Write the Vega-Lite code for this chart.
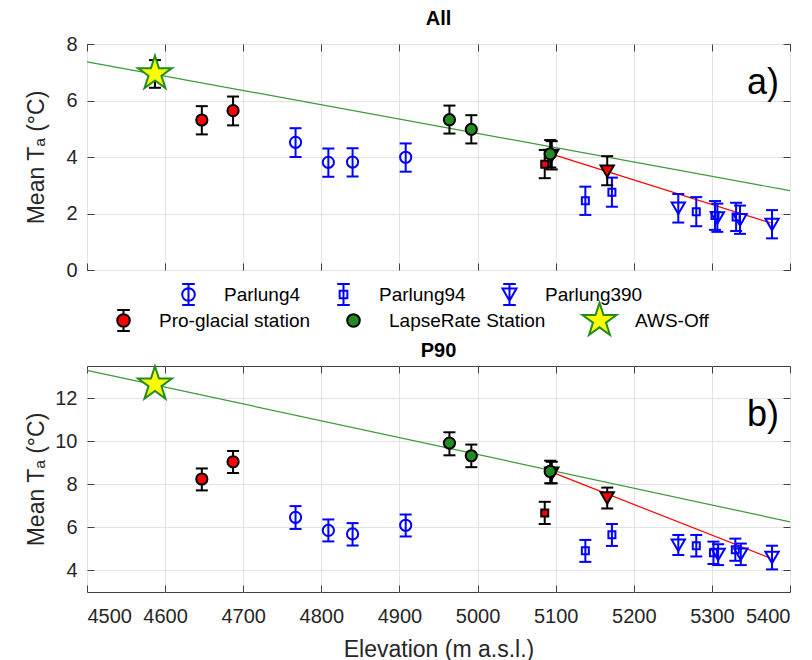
{
  "$schema": "https://vega.github.io/schema/vega-lite/v6.json",
  "padding": {"left": 24, "top": 8, "right": 2, "bottom": 0},
  "config": {
    "font": "Liberation Sans",
    "view": {"stroke": "#404040", "strokeWidth": 1},
    "axis": {"labelFont": "Liberation Sans", "labelFontSize": 20, "labelColor": "#262626", "titleFont": "Liberation Sans", "titleFontSize": 23, "titleFontWeight": "normal", "titleColor": "#262626", "gridColor": "#e3e3e3", "gridWidth": 1, "tickColor": "#404040", "tickWidth": 1, "domain": false, "format": "d"},
    "title": {"font": "Liberation Sans", "fontSize": 20, "fontWeight": "bold", "color": "#000000"}
  },
  "datasets": {
    "pts": [
      {"panel": "All", "series": "AWS-Off", "kind": "station", "sym": "star", "elev": 4587, "mean": 6.95, "lo": 6.45, "hi": 7.43},
      {"panel": "All", "series": "Pro-glacial station", "kind": "station", "sym": "circle", "elev": 4647, "mean": 5.31, "lo": 4.8, "hi": 5.8},
      {"panel": "All", "series": "Pro-glacial station", "kind": "station", "sym": "circle", "elev": 4687, "mean": 5.64, "lo": 5.12, "hi": 6.14},
      {"panel": "All", "series": "Parlung4", "kind": "parlung", "sym": "circle", "elev": 4767, "mean": 4.52, "lo": 4.0, "hi": 5.02},
      {"panel": "All", "series": "Parlung4", "kind": "parlung", "sym": "circle", "elev": 4809, "mean": 3.81, "lo": 3.3, "hi": 4.3},
      {"panel": "All", "series": "Parlung4", "kind": "parlung", "sym": "circle", "elev": 4840, "mean": 3.82, "lo": 3.31, "hi": 4.31},
      {"panel": "All", "series": "Parlung4", "kind": "parlung", "sym": "circle", "elev": 4908, "mean": 3.99, "lo": 3.48, "hi": 4.48},
      {"panel": "All", "series": "Pro-glacial station", "kind": "station", "sym": "triangle-down", "elev": 5095, "mean": 4.06, "lo": 3.56, "hi": 4.56},
      {"panel": "All", "series": "LapseRate Station", "kind": "station", "sym": "circle", "elev": 4964, "mean": 5.32, "lo": 4.83, "hi": 5.82},
      {"panel": "All", "series": "LapseRate Station", "kind": "station", "sym": "circle", "elev": 4992, "mean": 4.98, "lo": 4.48, "hi": 5.48},
      {"panel": "All", "series": "LapseRate Station", "kind": "station", "sym": "circle", "elev": 5093, "mean": 4.11, "lo": 3.63, "hi": 4.6},
      {"panel": "All", "series": "Pro-glacial station", "kind": "station", "sym": "square", "elev": 5086, "mean": 3.74, "lo": 3.25, "hi": 4.25},
      {"panel": "All", "series": "Pro-glacial station", "kind": "station", "sym": "triangle-down", "elev": 5166, "mean": 3.5, "lo": 3.0, "hi": 4.03},
      {"panel": "All", "series": "Parlung94", "kind": "parlung", "sym": "square", "elev": 5138, "mean": 2.45, "lo": 1.95, "hi": 2.95},
      {"panel": "All", "series": "Parlung94", "kind": "parlung", "sym": "square", "elev": 5172, "mean": 2.75, "lo": 2.24, "hi": 3.27},
      {"panel": "All", "series": "Parlung94", "kind": "parlung", "sym": "square", "elev": 5280, "mean": 2.06, "lo": 1.55, "hi": 2.58},
      {"panel": "All", "series": "Parlung94", "kind": "parlung", "sym": "square", "elev": 5304, "mean": 1.93, "lo": 1.42, "hi": 2.44},
      {"panel": "All", "series": "Parlung94", "kind": "parlung", "sym": "square", "elev": 5331, "mean": 1.88, "lo": 1.38, "hi": 2.38},
      {"panel": "All", "series": "Parlung390", "kind": "parlung", "sym": "triangle-down", "elev": 5257, "mean": 2.19, "lo": 1.68, "hi": 2.69},
      {"panel": "All", "series": "Parlung390", "kind": "parlung", "sym": "triangle-down", "elev": 5307, "mean": 1.85, "lo": 1.35, "hi": 2.35},
      {"panel": "All", "series": "Parlung390", "kind": "parlung", "sym": "triangle-down", "elev": 5336, "mean": 1.78, "lo": 1.28, "hi": 2.28},
      {"panel": "All", "series": "Parlung390", "kind": "parlung", "sym": "triangle-down", "elev": 5377, "mean": 1.62, "lo": 1.12, "hi": 2.12},
      {"panel": "P90", "series": "AWS-Off", "kind": "station", "sym": "star", "elev": 4587, "mean": 12.66, "lo": 12.4, "hi": 12.9},
      {"panel": "P90", "series": "Pro-glacial station", "kind": "station", "sym": "circle", "elev": 4647, "mean": 8.25, "lo": 7.72, "hi": 8.74},
      {"panel": "P90", "series": "Pro-glacial station", "kind": "station", "sym": "circle", "elev": 4687, "mean": 9.05, "lo": 8.53, "hi": 9.55},
      {"panel": "P90", "series": "Parlung4", "kind": "parlung", "sym": "circle", "elev": 4767, "mean": 6.47, "lo": 5.93, "hi": 6.99},
      {"panel": "P90", "series": "Parlung4", "kind": "parlung", "sym": "circle", "elev": 4809, "mean": 5.86, "lo": 5.35, "hi": 6.37},
      {"panel": "P90", "series": "Parlung4", "kind": "parlung", "sym": "circle", "elev": 4840, "mean": 5.7, "lo": 5.16, "hi": 6.2},
      {"panel": "P90", "series": "Parlung4", "kind": "parlung", "sym": "circle", "elev": 4908, "mean": 6.1, "lo": 5.58, "hi": 6.6},
      {"panel": "P90", "series": "Pro-glacial station", "kind": "station", "sym": "triangle-down", "elev": 5095, "mean": 8.52, "lo": 8.05, "hi": 9.05},
      {"panel": "P90", "series": "LapseRate Station", "kind": "station", "sym": "circle", "elev": 4964, "mean": 9.92, "lo": 9.35, "hi": 10.42},
      {"panel": "P90", "series": "LapseRate Station", "kind": "station", "sym": "circle", "elev": 4992, "mean": 9.33, "lo": 8.8, "hi": 9.85},
      {"panel": "P90", "series": "LapseRate Station", "kind": "station", "sym": "circle", "elev": 5093, "mean": 8.6, "lo": 8.05, "hi": 9.1},
      {"panel": "P90", "series": "Pro-glacial station", "kind": "station", "sym": "square", "elev": 5086, "mean": 6.67, "lo": 6.16, "hi": 7.19},
      {"panel": "P90", "series": "Pro-glacial station", "kind": "station", "sym": "triangle-down", "elev": 5166, "mean": 7.38, "lo": 6.88, "hi": 7.85},
      {"panel": "P90", "series": "Parlung94", "kind": "parlung", "sym": "square", "elev": 5138, "mean": 4.92, "lo": 4.4, "hi": 5.42},
      {"panel": "P90", "series": "Parlung94", "kind": "parlung", "sym": "square", "elev": 5172, "mean": 5.66, "lo": 5.14, "hi": 6.16},
      {"panel": "P90", "series": "Parlung94", "kind": "parlung", "sym": "square", "elev": 5280, "mean": 5.15, "lo": 4.65, "hi": 5.65},
      {"panel": "P90", "series": "Parlung94", "kind": "parlung", "sym": "square", "elev": 5302, "mean": 4.82, "lo": 4.3, "hi": 5.34},
      {"panel": "P90", "series": "Parlung94", "kind": "parlung", "sym": "square", "elev": 5330, "mean": 4.96, "lo": 4.45, "hi": 5.48},
      {"panel": "P90", "series": "Parlung390", "kind": "parlung", "sym": "triangle-down", "elev": 5257, "mean": 5.18, "lo": 4.72, "hi": 5.65},
      {"panel": "P90", "series": "Parlung390", "kind": "parlung", "sym": "triangle-down", "elev": 5308, "mean": 4.75, "lo": 4.25, "hi": 5.22},
      {"panel": "P90", "series": "Parlung390", "kind": "parlung", "sym": "triangle-down", "elev": 5337, "mean": 4.76, "lo": 4.25, "hi": 5.25},
      {"panel": "P90", "series": "Parlung390", "kind": "parlung", "sym": "triangle-down", "elev": 5377, "mean": 4.61, "lo": 4.05, "hi": 5.15}
    ],
    "fits": [
      {"panel": "All", "fit": "green", "elev": 4500, "val": 7.37},
      {"panel": "All", "fit": "green", "elev": 5400, "val": 2.81},
      {"panel": "All", "fit": "red", "elev": 5095, "val": 4.1},
      {"panel": "All", "fit": "red", "elev": 5375, "val": 1.67},
      {"panel": "P90", "fit": "green", "elev": 4500, "val": 13.3},
      {"panel": "P90", "fit": "green", "elev": 5400, "val": 6.26},
      {"panel": "P90", "fit": "red", "elev": 5095, "val": 8.57},
      {"panel": "P90", "fit": "red", "elev": 5375, "val": 4.57}
    ],
    "tags": [
      {"panel": "All", "t": "a)"},
      {"panel": "P90", "t": "b)"}
    ]
  },
  "spacing": 0,
  "resolve": {
    "scale": {"y": "independent", "stroke": "independent", "fill": "independent", "shape": "independent"},
    "legend": {"stroke": "independent", "fill": "independent", "shape": "independent"}
  },
  "vconcat": [
    {
      "title": {"text": "All", "offset": 5},
      "width": 703,
      "height": 226,
      "resolve": {
        "axis": {"x": "independent", "y": "independent"},
        "scale": {"stroke": "independent", "fill": "independent", "shape": "independent"},
        "legend": {"stroke": "independent", "fill": "independent", "shape": "independent"}
      },
      "layer": [
        {
          "data": {"name": "fits"},
          "transform": [{"filter": "datum.panel === 'All' && datum.fit === 'green'"}],
          "mark": {"type": "line", "color": "#3a9a3a", "strokeWidth": 1.2},
          "encoding": {
            "x": {"field": "elev", "type": "quantitative", "scale": {"domain": [4500, 5400], "nice": false, "zero": false},
                  "axis": {"orient": "bottom", "values": [4500, 4600, 4700, 4800, 4900, 5000, 5100, 5200, 5300, 5400], "labels": false, "tickSize": -7, "grid": true, "title": null}},
            "y": {"field": "val", "type": "quantitative", "scale": {"domain": [0, 8], "nice": false, "zero": false},
                  "axis": {"orient": "left", "values": [0, 2, 4, 6, 8], "tickSize": -7, "labelPadding": 17, "grid": true, "title": "Mean Tₐ (°C)", "titlePadding": 9, "minExtent": 30, "maxExtent": 30}}
          }
        },
        {
          "data": {"name": "fits"},
          "transform": [{"filter": "datum.panel === 'All' && datum.fit === 'red'"}],
          "mark": {"type": "line", "color": "#ff0000", "strokeWidth": 1.2},
          "encoding": {
            "x": {"field": "elev", "type": "quantitative", "axis": {"orient": "top", "values": [4500, 4600, 4700, 4800, 4900, 5000, 5100, 5200, 5300, 5400], "labels": false, "tickSize": -7, "grid": false, "title": null}},
            "y": {"field": "val", "type": "quantitative", "axis": {"orient": "right", "values": [0, 2, 4, 6, 8], "labels": false, "tickSize": -7, "grid": false, "title": null}}
          }
        },
        {
          "data": {"name": "pts"},
          "transform": [{"filter": "datum.panel === 'All' && datum.kind === 'parlung'"}],
          "mark": {"type": "point", "filled": false, "opacity": 0, "strokeWidth": 2, "size": 196},
          "encoding": {
            "x": {"field": "elev", "type": "quantitative", "axis": null},
            "y": {"field": "mean", "type": "quantitative", "axis": null},
            "stroke": {"field": "series", "type": "nominal",
                       "scale": {"domain": ["Parlung4", "Parlung94", "Parlung390"], "range": ["#0000ff", "#0000ff", "#0000ff"]},
                       "legend": {"title": null, "orient": "none", "legendX": 92, "legendY": 241, "direction": "horizontal", "columns": 3, "padding": 0,
                                  "labelFont": "Liberation Sans", "labelFontSize": 19, "labelColor": "#000000", "labelOffset": 26, "columnPadding": 32, "labelLimit": 300,
                                  "symbolSize": 196, "symbolStrokeWidth": 2, "symbolOpacity": 1, "symbolFillColor": "transparent"}},
            "shape": {"field": "series", "type": "nominal",
                      "scale": {"domain": ["Parlung4", "Parlung94", "Parlung390"], "range": [
                        "M0,-1.5L0,1.5M-0.9,-1.5L0.9,-1.5M-0.9,1.5L0.9,1.5M-0.9,0A0.9,0.9,0,1,0,0.9,0A0.9,0.9,0,1,0,-0.9,0Z",
                        "M0,-1.5L0,1.5M-0.9,-1.5L0.9,-1.5M-0.9,1.5L0.9,1.5M-0.55,-0.55L0.55,-0.55L0.55,0.55L-0.55,0.55Z",
                        "M0,-1.5L0,1.5M-0.9,-1.5L0.9,-1.5M-0.9,1.5L0.9,1.5M-1,-0.85L1,-0.85L0,0.9Z"]},
                      "legend": {"title": null, "orient": "none", "legendX": 92, "legendY": 241, "direction": "horizontal", "columns": 3, "padding": 0,
                                 "labelFont": "Liberation Sans", "labelFontSize": 19, "labelColor": "#000000", "labelOffset": 26, "columnPadding": 32, "labelLimit": 300,
                                 "symbolSize": 196, "symbolStrokeWidth": 2, "symbolOpacity": 1, "symbolFillColor": "transparent"}}
          }
        },
        {
          "data": {"name": "pts"},
          "transform": [{"filter": "datum.panel === 'All' && datum.kind === 'station'"}],
          "mark": {"type": "point", "filled": true, "opacity": 0, "strokeWidth": 2, "size": 196},
          "encoding": {
            "x": {"field": "elev", "type": "quantitative", "axis": null},
            "y": {"field": "mean", "type": "quantitative", "axis": null},
            "fill": {"field": "series", "type": "nominal",
                     "scale": {"domain": ["Pro-glacial station", "LapseRate Station", "AWS-Off"], "range": ["#ff0000", "#228b22", "#ffff00"]},
                     "legend": {"title": null, "orient": "none", "legendX": 27, "legendY": 267, "direction": "horizontal", "columns": 3, "padding": 0,
                                "labelFont": "Liberation Sans", "labelFontSize": 19, "labelColor": "#000000", "labelOffset": 26, "columnPadding": 32, "labelLimit": 300,
                                "symbolSize": 196, "symbolStrokeWidth": 2, "symbolOpacity": 1}},
            "stroke": {"field": "series", "type": "nominal",
                       "scale": {"domain": ["Pro-glacial station", "LapseRate Station", "AWS-Off"], "range": ["#000000", "#000000", "#228b22"]},
                       "legend": {"title": null, "orient": "none", "legendX": 27, "legendY": 267, "direction": "horizontal", "columns": 3, "padding": 0,
                                  "labelFont": "Liberation Sans", "labelFontSize": 19, "labelColor": "#000000", "labelOffset": 26, "columnPadding": 32, "labelLimit": 300,
                                  "symbolSize": 196, "symbolStrokeWidth": 2, "symbolOpacity": 1}},
            "shape": {"field": "series", "type": "nominal",
                      "scale": {"domain": ["Pro-glacial station", "LapseRate Station", "AWS-Off"], "range": [
                        "M0,-2.55L0,-2.55M0,2.063L0,2.063M0,-1.5L0,-0.9M0,0.9L0,1.5M-0.9,-1.5L0.9,-1.5M-0.9,1.5L0.9,1.5M-0.9,0A0.9,0.9,0,1,0,0.9,0A0.9,0.9,0,1,0,-0.9,0Z",
                        "M0,-2.55L0,-2.55M0,2.063L0,2.063M-0.9,0A0.9,0.9,0,1,0,0.9,0A0.9,0.9,0,1,0,-0.9,0Z",
                        "M0,-2.55L0.573,-0.788L2.425,-0.788L0.926,0.301L1.499,2.063L0,0.974L-1.499,2.063L-0.926,0.301L-2.425,-0.788L-0.573,-0.788Z"]},
                      "legend": {"title": null, "orient": "none", "legendX": 27, "legendY": 267, "direction": "horizontal", "columns": 3, "padding": 0,
                                 "labelFont": "Liberation Sans", "labelFontSize": 19, "labelColor": "#000000", "labelOffset": 26, "columnPadding": 32, "labelLimit": 300,
                                 "symbolSize": 196, "symbolStrokeWidth": 2, "symbolOpacity": 1}}
          }
        },
        {
          "data": {"name": "pts"},
          "transform": [{"filter": "datum.panel === 'All' && datum.kind === 'parlung'"}],
          "mark": {"type": "errorbar", "ticks": {"opacity": 1}, "rule": {"opacity": 1}, "size": 12, "thickness": 2, "color": "#0000ff"},
          "encoding": {
            "x": {"field": "elev", "type": "quantitative", "axis": null},
            "y": {"field": "lo", "type": "quantitative", "axis": null},
            "y2": {"field": "hi"}
          }
        },
        {
          "data": {"name": "pts"},
          "transform": [{"filter": "datum.panel === 'All' && datum.kind === 'station'"}],
          "mark": {"type": "errorbar", "ticks": {"opacity": 1}, "rule": {"opacity": 1}, "size": 12, "thickness": 2, "color": "#000000"},
          "encoding": {
            "x": {"field": "elev", "type": "quantitative", "axis": null},
            "y": {"field": "lo", "type": "quantitative", "axis": null},
            "y2": {"field": "hi"}
          }
        },
        {
          "data": {"name": "pts"},
          "transform": [{"filter": "datum.panel === 'All' && datum.kind === 'parlung'"}],
          "mark": {"type": "point", "filled": false, "opacity": 1, "strokeWidth": 2, "size": 196, "stroke": "#0000ff"},
          "encoding": {
            "x": {"field": "elev", "type": "quantitative", "axis": null},
            "y": {"field": "mean", "type": "quantitative", "axis": null},
            "shape": {"field": "sym", "type": "nominal", "legend": null,
                      "scale": {"domain": ["circle", "square", "triangle-down", "star"], "range": ["M-0.8,0A0.8,0.8,0,1,0,0.8,0A0.8,0.8,0,1,0,-0.8,0Z", "M-0.5,-0.5L0.5,-0.5L0.5,0.5L-0.5,0.5Z", "M-0.95,-0.8L0.95,-0.8L0,0.85Z", "M0,-2.55L0.573,-0.788L2.425,-0.788L0.926,0.301L1.499,2.063L0,0.974L-1.499,2.063L-0.926,0.301L-2.425,-0.788L-0.573,-0.788Z"]}}
          }
        },
        {
          "data": {"name": "pts"},
          "transform": [{"filter": "datum.panel === 'All' && datum.kind === 'station'"}],
          "mark": {"type": "point", "filled": true, "opacity": 1, "strokeWidth": 2, "size": 196},
          "encoding": {
            "x": {"field": "elev", "type": "quantitative", "axis": null},
            "y": {"field": "mean", "type": "quantitative", "axis": null},
            "shape": {"field": "sym", "type": "nominal", "legend": null,
                      "scale": {"domain": ["circle", "square", "triangle-down", "star"], "range": ["M-0.8,0A0.8,0.8,0,1,0,0.8,0A0.8,0.8,0,1,0,-0.8,0Z", "M-0.5,-0.5L0.5,-0.5L0.5,0.5L-0.5,0.5Z", "M-0.95,-0.8L0.95,-0.8L0,0.85Z", "M0,-2.55L0.573,-0.788L2.425,-0.788L0.926,0.301L1.499,2.063L0,0.974L-1.499,2.063L-0.926,0.301L-2.425,-0.788L-0.573,-0.788Z"]}},
            "fill": {"field": "series", "type": "nominal", "legend": null,
                     "scale": {"domain": ["Pro-glacial station", "LapseRate Station", "AWS-Off"], "range": ["#ff0000", "#228b22", "#ffff00"]}},
            "stroke": {"field": "series", "type": "nominal", "legend": null,
                       "scale": {"domain": ["Pro-glacial station", "LapseRate Station", "AWS-Off"], "range": ["#000000", "#000000", "#228b22"]}}
          }
        },
        {
          "data": {"name": "tags"},
          "transform": [{"filter": "datum.panel === 'All'"}],
          "mark": {"type": "text", "align": "right", "baseline": "middle", "fontSize": 36, "font": "Liberation Sans", "color": "#000000"},
          "encoding": {
            "x": {"datum": 5386, "type": "quantitative", "axis": null},
            "y": {"datum": 6.62, "type": "quantitative", "axis": null},
            "text": {"field": "t"}
          }
        }
      ]
    },
    {
      "title": {"text": "P90", "offset": 1.5},
      "width": 703,
      "height": 226,
      "resolve": {
        "axis": {"x": "independent", "y": "independent"},
        "scale": {"stroke": "independent", "fill": "independent", "shape": "independent"},
        "legend": {"stroke": "independent", "fill": "independent", "shape": "independent"}
      },
      "layer": [
        {
          "data": {"name": "fits"},
          "transform": [{"filter": "datum.panel === 'P90' && datum.fit === 'green'"}],
          "mark": {"type": "line", "color": "#3a9a3a", "strokeWidth": 1.2},
          "encoding": {
            "x": {"field": "elev", "type": "quantitative", "scale": {"domain": [4500, 5400], "nice": false, "zero": false},
                  "axis": {"orient": "bottom", "values": [4500, 4600, 4700, 4800, 4900, 5000, 5100, 5200, 5300, 5400], "tickSize": -7, "labelPadding": 21, "grid": true, "title": "Elevation (m a.s.l.)", "titlePadding": 12}},
            "y": {"field": "val", "type": "quantitative", "scale": {"domain": [3, 13.5], "nice": false, "zero": false},
                  "axis": {"orient": "left", "values": [4, 6, 8, 10, 12], "tickSize": -7, "labelPadding": 17, "grid": true, "title": "Mean Tₐ (°C)", "titlePadding": 9, "minExtent": 30, "maxExtent": 30}}
          }
        },
        {
          "data": {"name": "fits"},
          "transform": [{"filter": "datum.panel === 'P90' && datum.fit === 'red'"}],
          "mark": {"type": "line", "color": "#ff0000", "strokeWidth": 1.2},
          "encoding": {
            "x": {"field": "elev", "type": "quantitative", "axis": {"orient": "top", "values": [4500, 4600, 4700, 4800, 4900, 5000, 5100, 5200, 5300, 5400], "labels": false, "tickSize": -7, "grid": false, "title": null}},
            "y": {"field": "val", "type": "quantitative", "axis": {"orient": "right", "values": [4, 6, 8, 10, 12], "labels": false, "tickSize": -7, "grid": false, "title": null}}
          }
        },
        {
          "data": {"name": "pts"},
          "transform": [{"filter": "datum.panel === 'P90' && datum.kind === 'parlung'"}],
          "mark": {"type": "errorbar", "ticks": {"opacity": 1}, "rule": {"opacity": 1}, "size": 12, "thickness": 2, "color": "#0000ff"},
          "encoding": {
            "x": {"field": "elev", "type": "quantitative", "axis": null},
            "y": {"field": "lo", "type": "quantitative", "axis": null},
            "y2": {"field": "hi"}
          }
        },
        {
          "data": {"name": "pts"},
          "transform": [{"filter": "datum.panel === 'P90' && datum.kind === 'station'"}],
          "mark": {"type": "errorbar", "ticks": {"opacity": 1}, "rule": {"opacity": 1}, "size": 12, "thickness": 2, "color": "#000000"},
          "encoding": {
            "x": {"field": "elev", "type": "quantitative", "axis": null},
            "y": {"field": "lo", "type": "quantitative", "axis": null},
            "y2": {"field": "hi"}
          }
        },
        {
          "data": {"name": "pts"},
          "transform": [{"filter": "datum.panel === 'P90' && datum.kind === 'parlung'"}],
          "mark": {"type": "point", "filled": false, "opacity": 1, "strokeWidth": 2, "size": 196, "stroke": "#0000ff"},
          "encoding": {
            "x": {"field": "elev", "type": "quantitative", "axis": null},
            "y": {"field": "mean", "type": "quantitative", "axis": null},
            "shape": {"field": "sym", "type": "nominal", "legend": null,
                      "scale": {"domain": ["circle", "square", "triangle-down", "star"], "range": ["M-0.8,0A0.8,0.8,0,1,0,0.8,0A0.8,0.8,0,1,0,-0.8,0Z", "M-0.5,-0.5L0.5,-0.5L0.5,0.5L-0.5,0.5Z", "M-0.95,-0.8L0.95,-0.8L0,0.85Z", "M0,-2.55L0.573,-0.788L2.425,-0.788L0.926,0.301L1.499,2.063L0,0.974L-1.499,2.063L-0.926,0.301L-2.425,-0.788L-0.573,-0.788Z"]}}
          }
        },
        {
          "data": {"name": "pts"},
          "transform": [{"filter": "datum.panel === 'P90' && datum.kind === 'station'"}],
          "mark": {"type": "point", "filled": true, "opacity": 1, "strokeWidth": 2, "size": 196},
          "encoding": {
            "x": {"field": "elev", "type": "quantitative", "axis": null},
            "y": {"field": "mean", "type": "quantitative", "axis": null},
            "shape": {"field": "sym", "type": "nominal", "legend": null,
                      "scale": {"domain": ["circle", "square", "triangle-down", "star"], "range": ["M-0.8,0A0.8,0.8,0,1,0,0.8,0A0.8,0.8,0,1,0,-0.8,0Z", "M-0.5,-0.5L0.5,-0.5L0.5,0.5L-0.5,0.5Z", "M-0.95,-0.8L0.95,-0.8L0,0.85Z", "M0,-2.55L0.573,-0.788L2.425,-0.788L0.926,0.301L1.499,2.063L0,0.974L-1.499,2.063L-0.926,0.301L-2.425,-0.788L-0.573,-0.788Z"]}},
            "fill": {"field": "series", "type": "nominal", "legend": null,
                     "scale": {"domain": ["Pro-glacial station", "LapseRate Station", "AWS-Off"], "range": ["#ff0000", "#228b22", "#ffff00"]}},
            "stroke": {"field": "series", "type": "nominal", "legend": null,
                       "scale": {"domain": ["Pro-glacial station", "LapseRate Station", "AWS-Off"], "range": ["#000000", "#000000", "#228b22"]}}
          }
        },
        {
          "data": {"name": "tags"},
          "transform": [{"filter": "datum.panel === 'P90'"}],
          "mark": {"type": "text", "align": "right", "baseline": "middle", "fontSize": 36, "font": "Liberation Sans", "color": "#000000"},
          "encoding": {
            "x": {"datum": 5386, "type": "quantitative", "axis": null},
            "y": {"datum": 11.24, "type": "quantitative", "axis": null},
            "text": {"field": "t"}
          }
        }
      ]
    }
  ]
}
